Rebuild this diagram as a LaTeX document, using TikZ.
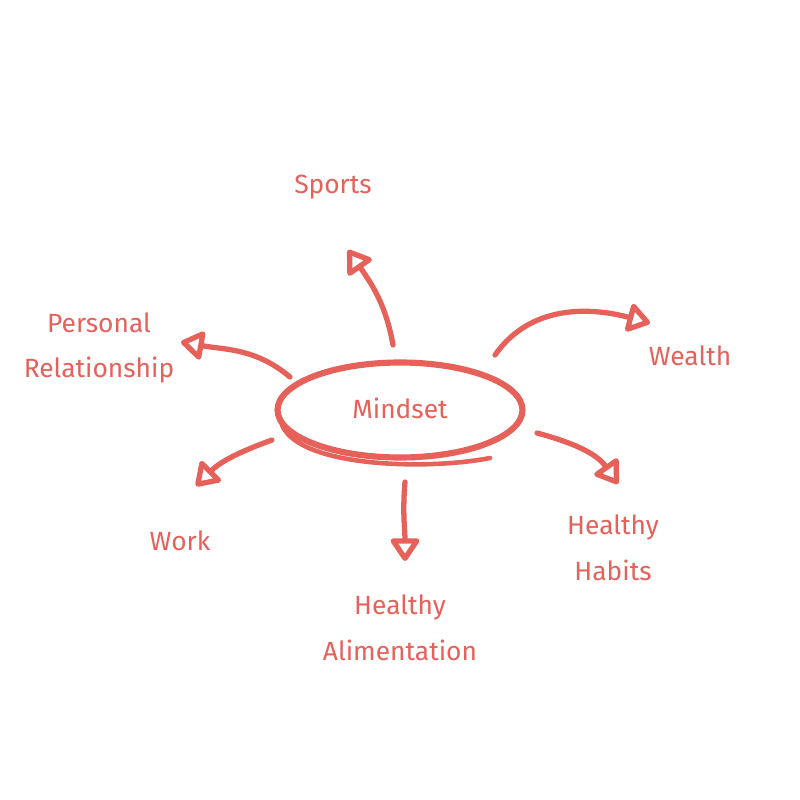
\documentclass[tikz,border=0pt]{standalone}
\usepackage{fontspec}
\setmainfont{Fira Sans}
\usetikzlibrary{arrows.meta,shapes.geometric}
\definecolor{ink}{HTML}{E5615A}
\begin{document}
\begin{tikzpicture}[x=0.02cm,y=-0.02cm,
  lbl/.style={text=ink,font=\fontsize{15}{26}\selectfont,align=center},
  conn/.style={draw=ink,line width=3pt,line cap=round,line join=round,
    -{Triangle[open,length=0.5cm,width=0.64cm,line width=3pt,round]}}]
\useasboundingbox[fill=white] (0,0) rectangle (800,800);
% center
\node[draw=ink,line width=3.5pt,ellipse,minimum width=4.9cm,minimum height=1.9cm,inner sep=0pt] (m) at (400,410) {};
\node[lbl] (mt) at (400,408) {Mindset};
\draw[ink,line width=2.6pt,line cap=round] (282,425) .. controls (300,468) and (430,470) .. (490,458);
% labels
\node[lbl] (sp) at (333,187) {Sports};
\node[lbl] (pr) at (99,348) {Personal\\Relationship};
\node[lbl] (we) at (690,356) {Wealth};
\node[lbl] (wo) at (180,541) {Work};
\node[lbl] (hh) at (613,548) {Healthy\\Habits};
\node[lbl] (ha) at (400,628) {Healthy\\Alimentation};
% connector ends
\coordinate (s1) at (393,345); \coordinate (s2) at (348,250);
\coordinate (w1) at (495,355); \coordinate (w2) at (650,323);
\coordinate (p1) at (290,377); \coordinate (p2) at (181,342);
\coordinate (k1) at (272,440); \coordinate (k2) at (196,486);
\coordinate (a1) at (405,482); \coordinate (a2) at (405,561);
\coordinate (h1) at (537,433); \coordinate (h2) at (618,484);
\draw[conn] (s1) to[out=100,in=-55] (s2);
\draw[conn] (w1) to[out=55,in=165] (w2);
\draw[conn] (p1) to[out=140,in=-10] (p2);
\draw[conn] (k1) to[out=200,in=45] (k2);
\draw[conn] (a1) to[out=-95,in=90] (a2);
\draw[conn] (h1) to[out=-15,in=125] (h2);
\end{tikzpicture}
\end{document}
